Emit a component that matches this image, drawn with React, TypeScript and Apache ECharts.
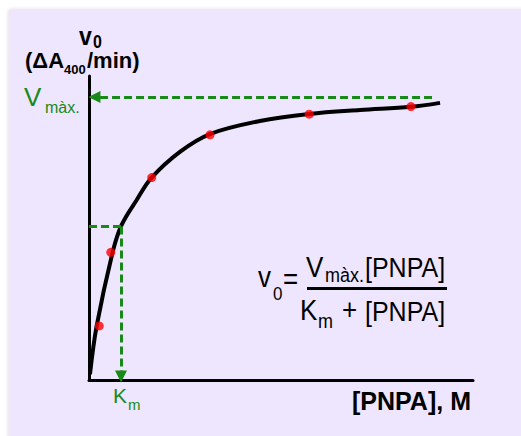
import React, { useEffect, useRef } from "react";
import * as echarts from "echarts";

// Michaelis-Menten curve (x in Km units, y in Vmax units)
const curveX = [0.03, 0.24, 0.74, 1.02, 1.49, 1.95, 2.84, 3.78, 5.34, 6.88, 8.47, 10.06, 10.97];
const curveY = [0.02, 0.191, 0.452, 0.548, 0.636, 0.714, 0.806, 0.869, 0.915, 0.94, 0.954, 0.965, 0.979];
// measured points (red)
const pointX = [0.32, 0.68, 1.96, 3.78, 6.88, 10.06];
const pointY = [0.191, 0.451, 0.715, 0.866, 0.939, 0.966];
// guide values
const vmax = 1.0;
const vmaxLineStart = 10.72;
const vmaxArrowTip = 0.17;
const km = 1.0;
const kmLevel = 0.542;
const kmArrowTip = 0.012;
const xMax = 12;
const yMax = 1.074;

const GREEN = "#178a17";
const FONT = "'Liberation Sans', Arial, sans-serif";

function txt(text: string, x: number, baseline: number, size: number, opts: any = {}) {
  const sy = opts.sy || 1;
  return {
    type: "text",
    z: 100,
    x,
    y: baseline - 0.3465 * size * sy,
    scaleY: sy,
    style: {
      text,
      fill: opts.color || "#000",
      font: `${opts.bold ? "bold " : ""}${size}px ${FONT}`,
      align: "left",
      verticalAlign: "middle",
    },
  };
}

export default function App() {
  const ref = useRef<HTMLDivElement>(null);
  useEffect(() => {
    document.body.style.margin = "0";
    const chart = echarts.init(ref.current!, null, { renderer: "svg" });
    const dash = [8, 4];
    const F = { sy: 1.12 };
    chart.setOption({
      animation: false,
      backgroundColor: "#ffffff",
      grid: { left: 89, top: 76, right: 48, bottom: 56 },
      xAxis: {
        type: "value",
        min: 0,
        max: xMax,
        axisLine: { show: true, lineStyle: { color: "#000", width: 3 } },
        axisTick: { show: false },
        axisLabel: { show: false },
        splitLine: { show: false },
      },
      yAxis: {
        type: "value",
        min: 0,
        max: yMax,
        axisLine: { show: true, lineStyle: { color: "#000", width: 3 } },
        axisTick: { show: false },
        axisLabel: { show: false },
        splitLine: { show: false },
      },
      graphic: [
        {
          type: "rect",
          z: -100,
          shape: { x: 9, y: 10, width: 520, height: 440 },
          style: { fill: "#eee6fe", shadowBlur: 4, shadowColor: "rgba(0,0,0,0.18)" },
        },
        txt("v", 79, 45, 23, { bold: true, sy: 1.1 }),
        txt("0", 93, 48, 16, { bold: true, sy: 1.1 }),
        txt("(ΔA", 25, 68, 22, { bold: true }),
        txt("400", 64, 74, 13, { bold: true }),
        txt("/min)", 87, 68, 22, { bold: true }),
        txt("V", 24, 106, 26, { color: GREEN }),
        txt("màx.", 45, 113, 16, { color: GREEN }),
        txt("v", 258, 287, 26, F),
        txt("0", 273, 300, 17, F),
        txt("=", 283, 289, 26, F),
        txt("V", 306, 277, 26, F),
        txt("màx.", 325, 282, 18, F),
        txt("[PNPA]", 365, 277, 25, F),
        {
          type: "line",
          z: 100,
          shape: { x1: 307, y1: 288.5, x2: 447, y2: 288.5 },
          style: { stroke: "#000", lineWidth: 3 },
        },
        txt("K", 300, 320, 26, F),
        txt("m", 318, 328, 18, F),
        txt("+", 342, 320, 26, F),
        txt("[PNPA]", 365, 321, 25, F),
        txt("[PNPA], M", 352, 410, 25, { bold: true }),
        txt("K", 113, 403, 21, { color: GREEN }),
        txt("m", 128, 410, 15, { color: GREEN }),
      ],
      series: [
        {
          type: "line",
          data: curveX.map((x, i) => [x, curveY[i]]),
          smooth: 0.35,
          showSymbol: false,
          symbol: "none",
          lineStyle: { color: "#000", width: 4 },
          z: 3,
          markLine: {
            silent: true,
            animation: false,
            label: { show: false },
            lineStyle: { color: GREEN, width: 3, type: dash, opacity: 1 },
            symbolSize: [12, 12],
            data: [
              [
                { coord: [vmaxLineStart, vmax], symbol: "none" },
                { coord: [vmaxArrowTip, vmax], symbol: "triangle" },
              ],
              [
                { coord: [0, kmLevel], symbol: "none" },
                { coord: [km, kmLevel], symbol: "none" },
              ],
              [
                { coord: [km, kmLevel], symbol: "none" },
                { coord: [km, kmArrowTip], symbol: "triangle" },
              ],
            ],
          },
        },
        {
          type: "scatter",
          data: pointX.map((x, i) => [x, pointY[i]]),
          symbolSize: 9,
          itemStyle: { color: "#ff0000" },
          z: 4,
        },
      ],
    });
    return () => chart.dispose();
  }, []);
  return <div ref={ref} style={{ width: 521, height: 436 }} />;
}
